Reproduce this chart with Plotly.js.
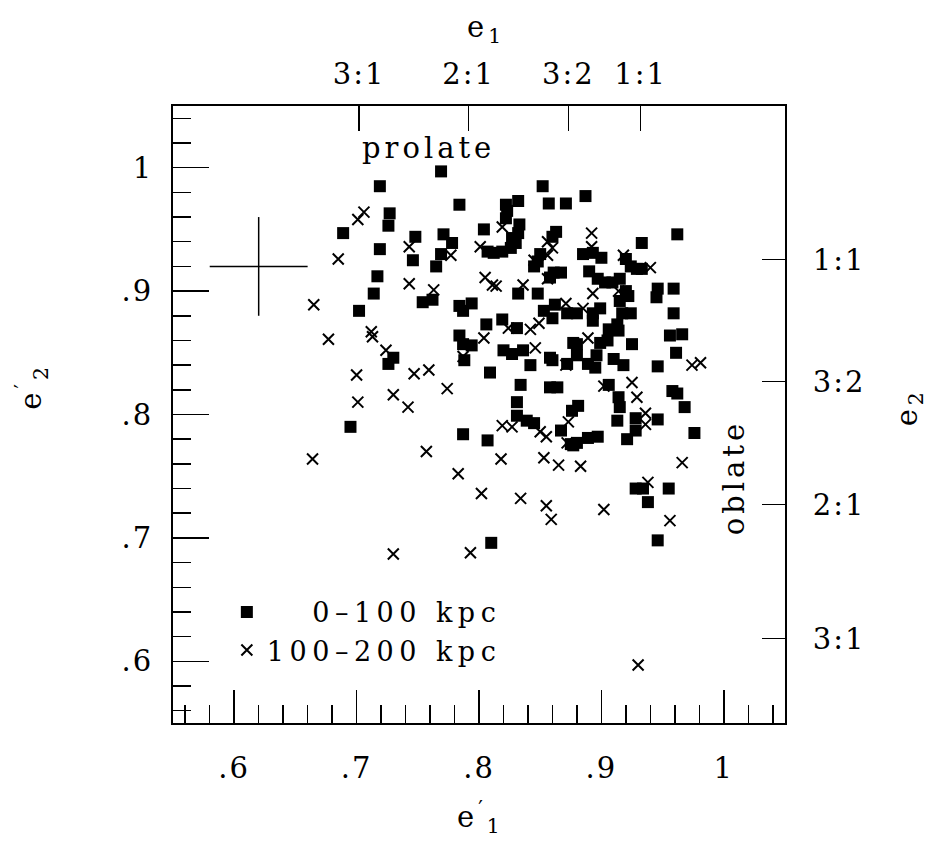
<!DOCTYPE html>
<html>
<head>
<meta charset="utf-8">
<script src="https://cdn.plot.ly/plotly-3.0.1.min.js"></script>
<style>
html,body{margin:0;padding:0;background:#fff;}
#chart{width:930px;height:844px;}
text{letter-spacing:2px;}
text.legendtext{letter-spacing:5.5px;}
text.annotation-text{letter-spacing:4px;}
</style>
</head>
<body>
<div id="chart"></div>
<script>
// 0-100 kpc (filled squares)
const nearX = [0.719,0.769,0.784,0.727,0.726,0.689,0.748,0.771,0.778,0.769,0.719,0.746,0.765,0.717,0.714,0.754,0.762,0.784,0.794,0.787,0.702,0.784,0.787,0.794,0.730,0.726,0.788,0.695,0.787,0.810,
0.852,0.832,0.857,0.871,0.887,0.822,0.823,0.822,0.804,0.833,0.832,0.827,0.830,0.826,0.819,0.812,0.807,0.863,0.860,0.850,0.848,0.845,0.861,0.867,0.858,0.832,0.848,0.806,0.819,0.831,
0.853,0.862,0.860,0.872,0.880,0.877,0.858,0.820,0.827,0.836,0.842,0.809,0.834,0.860,0.872,0.858,0.864,0.831,0.831,0.839,0.845,0.867,0.876,0.877,0.807,0.880,0.880,0.889,0.895,0.881,
0.875,0.880,0.889,0.897,0.962,0.933,0.885,0.893,0.900,0.890,0.920,0.924,0.929,0.933,0.897,0.903,0.909,0.915,0.920,0.922,0.915,0.924,0.917,0.913,0.914,0.906,0.905,0.899,0.893,0.899,
0.893,0.946,0.945,0.959,0.959,0.956,0.966,0.961,0.925,0.910,0.918,0.896,0.946,0.906,0.914,0.915,0.913,0.928,0.928,0.921,0.946,0.958,0.962,0.968,0.976,0.928,0.934,0.938,0.955,0.946];
const nearY = [0.985,0.997,0.970,0.963,0.953,0.947,0.944,0.946,0.939,0.930,0.934,0.925,0.920,0.912,0.898,0.891,0.893,0.888,0.890,0.884,0.884,0.864,0.857,0.856,0.846,0.841,0.844,0.790,0.784,0.696,
0.985,0.973,0.971,0.971,0.977,0.970,0.965,0.959,0.950,0.954,0.947,0.943,0.939,0.935,0.932,0.931,0.932,0.948,0.944,0.930,0.924,0.920,0.915,0.915,0.911,0.898,0.898,0.873,0.877,0.870,
0.884,0.889,0.878,0.882,0.882,0.858,0.846,0.852,0.849,0.852,0.840,0.834,0.824,0.844,0.841,0.822,0.822,0.810,0.799,0.795,0.793,0.787,0.803,0.775,0.779,0.857,0.848,0.841,0.838,0.807,
0.776,0.777,0.781,0.782,0.946,0.939,0.930,0.931,0.927,0.916,0.926,0.920,0.918,0.918,0.910,0.907,0.907,0.910,0.900,0.896,0.892,0.882,0.882,0.873,0.868,0.869,0.860,0.858,0.882,0.886,
0.876,0.902,0.895,0.902,0.882,0.864,0.865,0.850,0.857,0.845,0.840,0.848,0.839,0.824,0.814,0.806,0.795,0.797,0.787,0.780,0.796,0.819,0.817,0.806,0.785,0.740,0.740,0.729,0.740,0.698];

// 100-200 kpc (crosses)
const farX = [0.706,0.701,0.685,0.743,0.777,0.801,0.743,0.763,0.665,0.712,0.713,0.677,0.724,0.787,0.700,0.747,0.759,0.774,0.701,0.730,0.742,0.664,0.757,0.783,0.802,0.730,0.793,
0.819,0.856,0.860,0.856,0.845,0.856,0.805,0.811,0.814,0.836,0.871,0.849,0.842,0.824,0.804,0.846,0.885,0.889,0.819,0.827,0.850,0.855,0.873,0.872,0.818,0.853,0.865,0.883,0.834,0.855,0.859,0.871,
0.892,0.892,0.918,0.940,0.893,0.914,0.974,0.981,0.925,0.929,0.902,0.936,0.936,0.966,0.938,0.902,0.956,0.930];
const farY = [0.964,0.958,0.926,0.936,0.929,0.936,0.906,0.901,0.889,0.867,0.863,0.861,0.852,0.847,0.832,0.833,0.836,0.821,0.810,0.816,0.806,0.764,0.770,0.752,0.736,0.687,0.688,
0.952,0.940,0.935,0.929,0.925,0.910,0.911,0.905,0.904,0.905,0.890,0.874,0.869,0.870,0.862,0.854,0.886,0.862,0.791,0.790,0.786,0.782,0.794,0.777,0.764,0.765,0.759,0.758,0.732,0.726,0.715,0.840,
0.947,0.936,0.929,0.919,0.898,0.900,0.840,0.842,0.826,0.814,0.823,0.801,0.792,0.761,0.745,0.723,0.714,0.597];

// typical error bar
const errX = [0.62];
const errY = [0.92];
const errSize = 0.04;

// axes
const mainTicks = [0.6,0.7,0.8,0.9,1.0];
const xTickText = ['.6','.7','.8','.9','1'];
const yTickText = ['.6','.7','.8','.9','1'];
const ratioTopVals = [0.702,0.7915,0.873,0.932];
const ratioTopText = ['3:1','2:1','3:2','1:1'];
const ratioRightVals = [0.9255,0.8267,0.7271,0.6186];
const ratioRightText = ['1:1','3:2','2:1','3:1'];
const legendNames = ['\u2007\u20070\u2013100 kpc','100\u2013200 kpc'];

const FONT = 'DejaVu Serif';
const FS = 29;
const tfont = {family: FONT, size: FS, color: '#000'};

const traces = [
  {x: nearX, y: nearY, type: 'scatter', mode: 'markers', name: legendNames[0],
   marker: {symbol: 'square', size: 12, color: '#000'}, xaxis: 'x', yaxis: 'y'},
  {x: farX, y: farY, type: 'scatter', mode: 'markers', name: legendNames[1],
   marker: {symbol: 'x-thin', size: 11, color: '#000', line: {width: 2, color: '#000'}}, xaxis: 'x', yaxis: 'y'},
  {x: errX, y: errY, type: 'scatter', mode: 'markers', showlegend: false,
   marker: {size: 1, color: 'rgba(0,0,0,0)'},
   error_x: {type: 'constant', value: errSize, width: 0, thickness: 1.5, color: '#000'},
   error_y: {type: 'constant', value: errSize, width: 0, thickness: 1.5, color: '#000'}},
  {x: [null], y: [null], xaxis: 'x2', yaxis: 'y2', showlegend: false, type: 'scatter', mode: 'markers'}
];

const layout = {
  width: 930, height: 844,
  margin: {l: 173, r: 145, t: 106, b: 121, pad: 0},
  paper_bgcolor: '#fff', plot_bgcolor: '#fff',
  showlegend: true,
  legend: {x: 0.088, y: 0.219, xanchor: 'left', yanchor: 'top', font: {family: FONT, size: 27, color: '#000'},
           bgcolor: 'rgba(0,0,0,0)', borderwidth: 0, tracegroupgap: 0, itemwidth: 30},
  xaxis: {range: [0.55, 1.05], showgrid: false, zeroline: false,
          showline: true, linecolor: '#000', linewidth: 2,
          tickmode: 'array', tickvals: mainTicks, ticktext: xTickText,
          ticks: 'inside', ticklen: 33, tickwidth: 1.5, tickcolor: '#000',
          ticklabelstandoff: 18,
          minor: {dtick: 0.02, tick0: 0.6, ticks: 'inside', ticklen: 18, tickwidth: 1.5, tickcolor: '#000', showgrid: false},
          tickfont: tfont, fixedrange: true},
  yaxis: {range: [0.55, 1.05], showgrid: false, zeroline: false,
          showline: true, linecolor: '#000', linewidth: 2,
          tickmode: 'array', tickvals: mainTicks, ticktext: yTickText,
          ticks: 'inside', ticklen: 36, tickwidth: 1.5, tickcolor: '#000',
          ticklabelstandoff: 12,
          minor: {dtick: 0.02, tick0: 0.6, ticks: 'inside', ticklen: 18, tickwidth: 1.5, tickcolor: '#000', showgrid: false},
          tickfont: tfont, fixedrange: true},
  xaxis2: {range: [0.55, 1.05], overlaying: 'x', side: 'top', anchor: 'y',
           showgrid: false, zeroline: false, showline: true, linecolor: '#000', linewidth: 2,
           tickmode: 'array', tickvals: ratioTopVals, ticktext: ratioTopText,
           ticks: 'inside', ticklen: 25, tickwidth: 1.5, tickcolor: '#000',
           ticklabelstandoff: 8, tickfont: tfont, fixedrange: true},
  yaxis2: {range: [0.55, 1.05], overlaying: 'y', side: 'right', anchor: 'x',
           showgrid: false, zeroline: false, showline: true, linecolor: '#000', linewidth: 2,
           tickmode: 'array', tickvals: ratioRightVals, ticktext: ratioRightText,
           ticks: 'inside', ticklen: 23, tickwidth: 1.5, tickcolor: '#000',
           ticklabelstandoff: 20, tickfont: tfont, fixedrange: true},
  annotations: [
    {text: 'prolate', x: 0.759, y: 1.016, xref: 'x', yref: 'y', showarrow: false, font: tfont, xanchor: 'center', yanchor: 'middle'},
    {text: 'oblate', x: 1.009, y: 0.749, xref: 'x', yref: 'y', showarrow: false, font: tfont, textangle: -90, xanchor: 'center', yanchor: 'middle'},
    {text: 'e<sub>1</sub>', x: 0.512, y: 1.125, xref: 'paper', yref: 'paper', showarrow: false, font: tfont, xanchor: 'center', yanchor: 'middle'},
    {text: 'e<sup>\u2032</sup><sub>1</sub>', x: 0.502, y: -0.153, xref: 'paper', yref: 'paper', showarrow: false, font: tfont, xanchor: 'center', yanchor: 'middle'},
    {text: 'e<sup>\u2032</sup><sub>2</sub>', x: -0.232, y: 0.545, xref: 'paper', yref: 'paper', showarrow: false, font: tfont, textangle: -90, xanchor: 'center', yanchor: 'middle'},
    {text: 'e<sub>2</sub>', x: 1.203, y: 0.512, xref: 'paper', yref: 'paper', showarrow: false, font: tfont, textangle: -90, xanchor: 'center', yanchor: 'middle'}
  ]
};

Plotly.newPlot('chart', traces, layout, {staticPlot: true, displayModeBar: false});
</script>
</body>
</html>
